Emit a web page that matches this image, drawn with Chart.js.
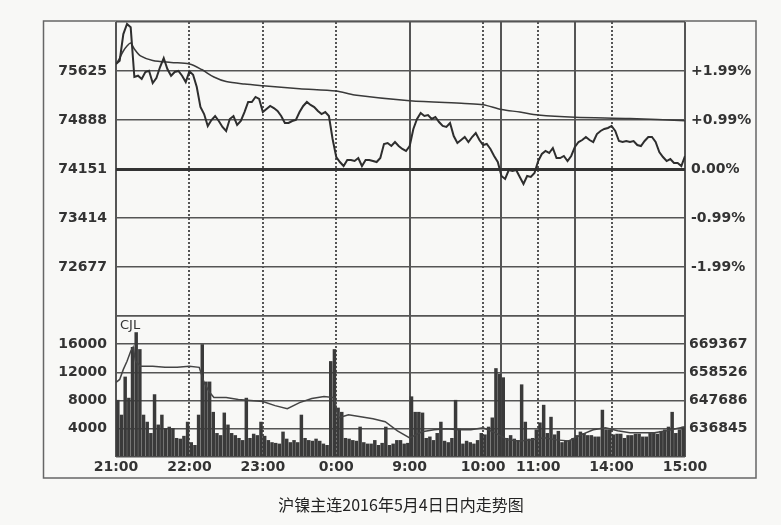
<!DOCTYPE html>
<html>
<head>
<meta charset="utf-8">
<script src="https://cdn.jsdelivr.net/npm/chart.js@4.4.0/dist/chart.umd.min.js"></script>
<style>
  body { margin: 0; background: #f8f8f6; }
  #wrap { position: relative; width: 781px; height: 525px; }
  #caption {
    position: absolute; left: 0; top: 492px; width: 802px;
    text-align: center; font: 16px "Noto Sans CJK SC"; color: #222;
  }
</style>
</head>
<body>
<div id="wrap">
  <canvas id="grafica" width="781" height="525"></canvas>
  <div id="caption">沪镍主连2016年5月4日日内走势图</div>
</div>
<script>
// minutos desde 21:00 (sesion nocturna 21:00-1:00, luego 9:00-10:15, 10:30-11:30, 13:30-15:00)
const STEP = 3;
const timeTicks  = [0, 60, 120, 180, 240, 300, 315, 345, 375, 405, 465];
const timeLabels = ['21:00', '22:00', '23:00', '0:00', '9:00', '10:00', '', '11:00', '', '14:00', '15:00'];
const solidTimes = [0, 240, 315, 375, 465];

const priceTicks = [72677, 73414, 74151, 74888, 75625];
const pctLabels  = ['-1.99%', '-0.99%', '0.00%', '+0.99%', '+1.99%'];
const prevClose  = 74151;
const priceTop = 76362, priceBottom = 71940;

const volTicks = [4000, 8000, 12000, 16000];
const volTop = 20000;
const oiTicks  = [636845, 647686, 658526, 669367];

// precio cada 3 minutos
const precio = [
  75730, 75780, 76181, 76332, 76282, 75535, 75554, 75505, 75610, 75629,
  75444, 75520, 75685, 75820, 75655, 75554, 75610, 75625, 75554, 75459,
  75620, 75569, 75384, 75083, 74978, 74798, 74888, 74948, 74873, 74783,
  74723, 74903, 74948, 74813, 74873, 75008, 75159, 75159, 75234, 75204,
  75008, 75053, 75099, 75068, 75023, 74948, 74843, 74843, 74873, 74888,
  75008, 75099, 75159, 75114, 75083, 75023, 74978, 75008, 74948, 74602,
  74331, 74256, 74196, 74286, 74286, 74271, 74316, 74196, 74286, 74286,
  74271, 74256, 74316, 74527, 74542, 74497, 74557, 74497, 74452, 74422,
  74497, 74753, 74903, 74993, 74948, 74963, 74903, 74933, 74858, 74798,
  74783, 74843, 74647, 74542, 74587, 74632, 74557, 74632, 74692, 74587,
  74512, 74527, 74452, 74347, 74256, 74046, 74001, 74136, 74121, 74136,
  74031, 73925, 74046, 74031, 74091, 74271, 74377, 74422, 74392, 74467,
  74316, 74316, 74347, 74271, 74347, 74482, 74557, 74587, 74632, 74587,
  74557, 74677, 74723, 74753, 74768, 74798, 74723, 74572, 74557, 74572,
  74557, 74572, 74512, 74497, 74572, 74632, 74632, 74557, 74407, 74331,
  74271, 74301, 74241, 74241, 74196, 74347
];

// precio medio
const mediaMin = [0, 3, 6, 9, 12, 15, 20, 30, 45, 60, 70, 80, 90, 105, 120, 150, 180, 195,
  240, 285, 300, 315, 330, 345, 375, 420, 465];
const media = [75730, 75820, 75926, 76001, 76046, 75956, 75851, 75783, 75753, 75730,
  75647, 75535, 75467, 75429, 75404, 75359, 75324, 75264,
  75178, 75136, 75118, 75046, 75008, 74963, 74929, 74911, 74877];

// volumen (CJL) por tramo de 3 minutos
const volumen = [
  8100, 6000, 11400, 8400, 15600, 17700, 15300, 6000, 5000, 3400,
  8900, 4600, 6000, 4100, 4300, 4100, 2700, 2600, 3000, 5000,
  2100, 1700, 6000, 16000, 10700, 10700, 6400, 3400, 3100, 6300,
  4600, 3400, 3100, 2700, 2400, 8400, 2700, 3300, 3100, 5000,
  3000, 2400, 2100, 2000, 1900, 3600, 2600, 2100, 2400, 2100,
  6000, 2700, 2400, 2300, 2600, 2300, 1900, 1700, 13600, 15300,
  7000, 6400, 2700, 2600, 2400, 2300, 4300, 2100, 1900, 1900,
  2400, 1700, 2000, 4300, 1700, 1900, 2400, 2400, 1900, 2000,
  8600, 6400, 6400, 6300, 2700, 2900, 2400, 3400, 5000, 2300,
  2100, 2700, 8100, 4000, 1900, 2300, 2100, 1900, 2400, 3400,
  3200, 4300, 5600, 12600, 11800, 11300, 2700, 3100, 2600, 2400,
  10300, 5000, 2600, 2700, 3900, 4900, 7400, 3400, 5700, 3200,
  3700, 2100, 2300, 2400, 2700, 3100, 3600, 3400, 3100, 3100,
  2900, 2900, 6700, 3900, 3900, 3200, 3300, 3300, 2700, 3100,
  3100, 3300, 3300, 2900, 2900, 3400, 3400, 3300, 3700, 3900,
  4300, 6400, 3400, 3900, 4300
];

// posiciones abiertas
const oiMin = [0, 3, 6, 9, 12, 14, 16, 20, 30, 40, 50, 60, 68, 72, 76, 80, 90, 100, 110, 120,
  130, 140, 150, 160, 170, 178, 182, 190, 200, 210, 220, 230, 240, 250, 260, 270, 280, 290,
  300, 310, 320, 330, 340, 350, 360, 370, 380, 390, 400, 410, 420, 430, 440, 450, 465];
const oi = [654657, 655818, 659690, 662788, 666660, 668209, 662788, 660852, 660852, 660465,
  660465, 660852, 660465, 654657, 651172, 648849, 648849, 648074, 647687, 647300,
  645751, 644590, 646913, 648462, 649236, 648849, 641105, 642266, 641492, 640718,
  639556, 636071, 633361, 635684, 636458, 636846, 636458, 636458,
  637233, 635297, 632586, 632199, 632586, 633361, 632586, 632199, 634522, 636458,
  637233, 636071, 635297, 635297, 635297, 636071, 637620];

const colorLinea = '#2e2e2e';
const colorGrid = '#555';
const oiPaso = (oiTicks[3] - oiTicks[0]) / 3;

const marco = {
  id: 'marco',
  beforeDraw(chart) {
    const ctx = chart.ctx;
    ctx.save();
    ctx.strokeStyle = '#666';
    ctx.lineWidth = 1.5;
    ctx.strokeRect(43.5, 21, 712.5, 457);
    ctx.restore();
  },
  afterDraw(chart) {
    const ctx = chart.ctx;
    const yv = chart.scales.yVol;
    ctx.save();
    ctx.fillStyle = '#333';
    ctx.font = '13px "DejaVu Sans"';
    ctx.textBaseline = 'middle';
    ctx.fillText('CJL', chart.chartArea.left + 4, yv.getPixelForValue(volTop) + 10);
    ctx.restore();
  }
};

const fuente = { family: 'DejaVu Sans', weight: 'bold', size: 14 };

new Chart(document.getElementById('grafica').getContext('2d'), {
  type: 'line',
  data: {
    datasets: [{
      label: 'precio',
      data: precio.map((p, i) => ({ x: i * STEP, y: p })),
      yAxisID: 'yPrice',
      borderColor: colorLinea,
      borderWidth: 2,
      pointRadius: 0,
      tension: 0,
      order: 1
    }, {
      label: 'media',
      data: media.map((p, i) => ({ x: mediaMin[i], y: p })),
      yAxisID: 'yPrice',
      borderColor: '#3a3a3a',
      borderWidth: 1.5,
      pointRadius: 0,
      tension: 0.3,
      order: 2
    }, {
      label: 'oi',
      data: oi.map((v, i) => ({ x: oiMin[i], y: v })),
      yAxisID: 'yOI',
      borderColor: '#444',
      borderWidth: 1.5,
      pointRadius: 0,
      tension: 0,
      order: 2
    }, {
      type: 'bar',
      label: 'CJL',
      data: volumen.map((v, j) => ({ x: j * STEP + STEP / 2, y: v })),
      yAxisID: 'yVol',
      backgroundColor: '#3a3a3a',
      barPercentage: 1,
      categoryPercentage: 0.95,
      order: 3
    }]
  },
  options: {
    responsive: false,
    animation: false,
    layout: { padding: { top: 22, left: 0, right: 0, bottom: 0 } },
    plugins: { legend: { display: false }, tooltip: { enabled: false } },
    scales: {
      x: {
        type: 'linear', min: 0, max: 465, offset: false,
        afterBuildTicks: s => { s.ticks = timeTicks.map(v => ({ value: v })); },
        afterFit: s => { s.height = 68; },
        ticks: {
          autoSkip: false, maxRotation: 0, padding: 2, color: '#333', font: fuente,
          callback: (v, i) => timeLabels[i]
        },
        grid: { offset: false, drawTicks: false, color: colorGrid, lineWidth: 2 },
        border: { display: false, dash: ctx => solidTimes.includes(ctx.tick.value) ? [] : [2, 2] }
      },
      yPrice: {
        position: 'left', stack: 'izq', stackWeight: 294, weight: 1,
        min: priceBottom, max: priceTop,
        afterBuildTicks: s => { s.ticks = [priceBottom, ...priceTicks, priceTop].map(v => ({ value: v })); },
        afterFit: s => { s.width = 116; },
        ticks: {
          autoSkip: false, padding: 9, color: '#333', font: fuente,
          callback: v => priceTicks.includes(v) ? String(v) : ''
        },
        grid: {
          drawTicks: false,
          color: ctx => ctx.tick.value === prevClose ? '#333' : colorGrid,
          lineWidth: ctx => ctx.tick.value === prevClose ? 3 : 1.5
        },
        border: { display: false }
      },
      yVol: {
        position: 'left', stack: 'izq', stackWeight: 141, weight: 0,
        min: 0, max: volTop,
        afterBuildTicks: s => { s.ticks = [0, ...volTicks, volTop].map(v => ({ value: v })); },
        afterFit: s => { s.width = 116; },
        ticks: {
          autoSkip: false, padding: 9, color: '#333', font: fuente,
          callback: v => volTicks.includes(v) ? String(v) : ''
        },
        grid: { drawTicks: false, color: colorGrid, lineWidth: 1.5 },
        border: { display: false }
      },
      yPct: {
        position: 'right', stack: 'der', stackWeight: 294, weight: 0,
        min: priceBottom, max: priceTop,
        afterBuildTicks: s => { s.ticks = priceTicks.map(v => ({ value: v })); },
        afterFit: s => { s.width = 96; },
        ticks: { autoSkip: false, padding: 6, color: '#333', font: fuente, callback: (v, i) => pctLabels[i] },
        grid: { display: false, drawTicks: false },
        border: { display: false }
      },
      yOI: {
        position: 'right', stack: 'der', stackWeight: 141, weight: 1,
        min: oiTicks[0] - oiPaso, max: oiTicks[0] + 4 * oiPaso,
        afterBuildTicks: s => { s.ticks = oiTicks.map(v => ({ value: v })); },
        afterFit: s => { s.width = 96; },
        ticks: { autoSkip: false, padding: 4, color: '#333', font: fuente, callback: v => String(v) },
        grid: { display: false, drawTicks: false },
        border: { display: false }
      }
    }
  },
  plugins: [marco]
});
</script>
</body>
</html>
